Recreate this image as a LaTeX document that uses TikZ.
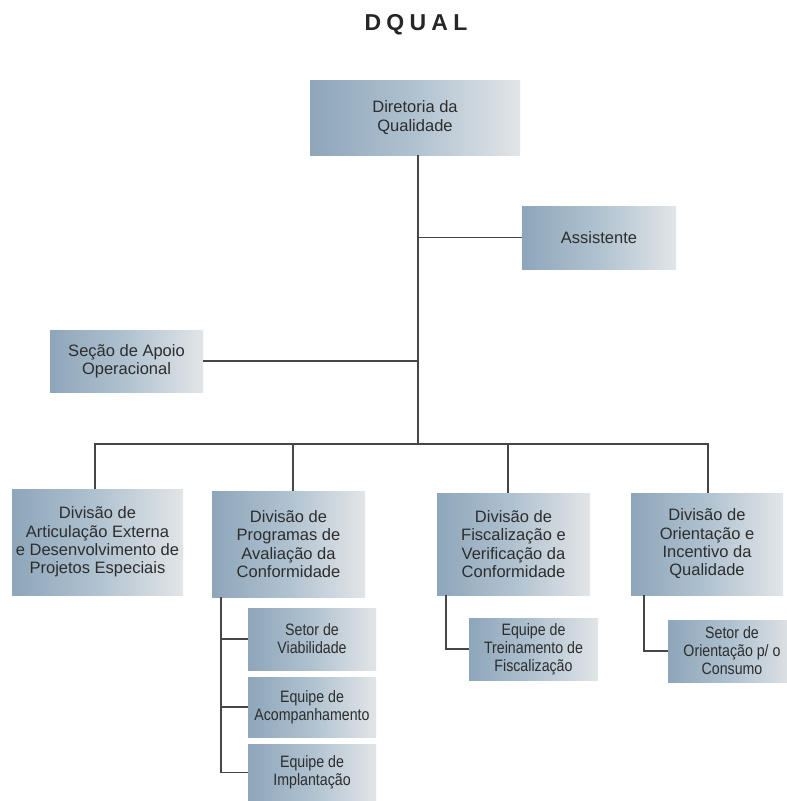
\documentclass[tikz,border=0pt]{standalone}
\usepackage{fontspec}
\setmainfont{Liberation Sans}
\newfontfamily\narrowfont[FakeStretch=0.86]{Liberation Sans}
\newfontfamily\titlefont[LetterSpace=23]{Liberation Sans}
\definecolor{boxL}{RGB}{142,166,186}
\definecolor{boxM}{RGB}{176,194,208}
\definecolor{boxR}{RGB}{226,229,231}
\definecolor{txt}{RGB}{45,45,45}
\definecolor{ln}{RGB}{70,70,70}
\begin{document}
\begin{tikzpicture}[x=1pt,y=-1pt,
  box/.style={rectangle,inner sep=0pt,left color=boxL,right color=boxR,middle color=boxM,
    text=txt,align=center,font=\fontsize{16.5}{18.3}\selectfont},
  sbox/.style={box,font=\narrowfont\fontsize{16.5}{18}\selectfont},
  conn/.style={draw=ln,line width=1.4pt}]
\useasboundingbox[fill=white] (0,0) rectangle (787,801);
\node[font=\titlefont\bfseries\fontsize{23}{26}\selectfont,text=black!85] (title) at (416,25) {DQUAL};
\node[box,minimum width=210,minimum height=75] (top) at (415,117.5) {Diretoria da\\Qualidade};
\node[box,minimum width=154,minimum height=63] (assist) at (599,237.5) {Assistente};
\node[box,minimum width=153,minimum height=62] (secao) at (126.5,361) {Seção de Apoio\\Operacional};
\node[box,minimum width=171,minimum height=106] (div1) at (97.5,542) {Divisão de\\Articulação Externa\\e Desenvolvimento de\\Projetos Especiais};
\node[box,minimum width=153,minimum height=106] (div2) at (288.5,544) {Divisão de\\Programas de\\Avaliação da\\Conformidade};
\node[box,minimum width=153,minimum height=102] (div3) at (513.5,544) {Divisão de\\Fiscalização e\\Verificação da\\Conformidade};
\node[box,minimum width=152,minimum height=102] (div4) at (707,544) {Divisão de\\Orientação e\\Incentivo da\\Qualidade};
\node[sbox,minimum width=128,minimum height=62] (s1) at (312,639) {Setor de\\Viabilidade};
\node[sbox,minimum width=128,minimum height=60] (s2) at (312,707) {Equipe de\\Acompanhamento};
\node[sbox,minimum width=128,minimum height=57] (s3) at (312,772.5) {Equipe de\\Implantação};
\node[sbox,minimum width=129,minimum height=62] (s4) at (533.5,649) {Equipe de\\Treinamento de\\Fiscalização};
\node[sbox,minimum width=128,minimum height=62] (s5) at (732,651) {Setor de\\Orientação p/ o\\Consumo};
% trunk
\coordinate (tj) at (418,444);
\draw[conn] (top.south -| tj) -- (tj);
\draw[conn] (assist.west) -- (assist.west -| tj);
\draw[conn] (secao.east) -- (secao.east -| tj);
% bus
\coordinate (d1) at (95,444);
\coordinate (d2) at (293,444);
\coordinate (d3) at (508,444);
\coordinate (d4) at (708,444);
\draw[conn] (div1.north -| d1) -- (d1) -- (d4) -- (div4.north -| d4);
\draw[conn] (d2) -- (div2.north -| d2);
\draw[conn] (d3) -- (div3.north -| d3);
% div2 subs
\coordinate (b2) at (221,597);
\draw[conn] (div2.south -| b2) -- (b2 |- s3.west) -- (s3.west);
\draw[conn] (s1.west) -- (s1.west -| b2);
\draw[conn] (s2.west) -- (s2.west -| b2);
% div3 sub
\coordinate (b3) at (446,595);
\draw[conn] (div3.south -| b3) -- (b3 |- s4.west) -- (s4.west);
% div4 sub
\coordinate (b4) at (644,595);
\draw[conn] (div4.south -| b4) -- (b4 |- s5.west) -- (s5.west);
\end{tikzpicture}
\end{document}
